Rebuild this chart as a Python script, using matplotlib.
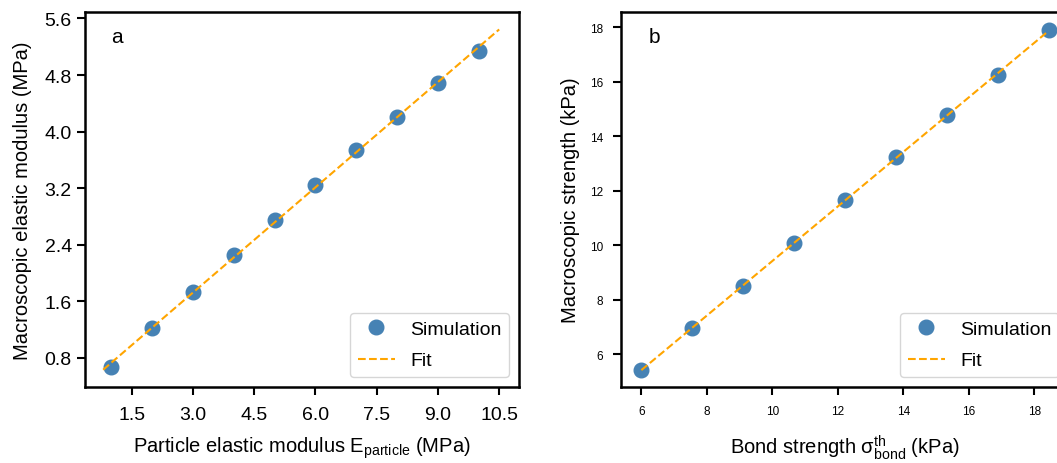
import numpy as np
import matplotlib
matplotlib.use("Agg")
import matplotlib.pyplot as plt

plt.rcParams['font.family'] = ['Liberation Sans', 'DejaVu Sans']
plt.rcParams['mathtext.fontset'] = 'custom'
plt.rcParams['mathtext.rm'] = 'Liberation Sans'

# panel a
e_particle = [1, 2, 3, 4, 5, 6, 7, 8, 9, 10]
e_macro = [0.67, 1.22, 1.74, 2.25, 2.75, 3.24, 3.74, 4.21, 4.69, 5.14]
fit_a_range = [0.8, 10.5]

# panel b
bond = [6.0, 7.55, 9.1, 10.67, 12.21, 13.78, 15.34, 16.89, 18.44]
strength = [5.42, 6.96, 8.50, 10.07, 11.64, 13.24, 14.78, 16.25, 17.90]
fit_b_range = [6.0, 18.44]

fig = plt.figure(figsize=(10.57, 4.64), dpi=100)
ax1 = fig.add_axes([0.0804, 0.1638, 0.4106, 0.808])
ax2 = fig.add_axes([0.5875, 0.1638, 0.4238, 0.808])

blue = '#4682b4'
orange = 'orange'
lab = 14.5

# a
k, b = np.polyfit(e_particle, e_macro, 1)
xf = np.linspace(fit_a_range[0], fit_a_range[1], 50)
ax1.plot(e_particle, e_macro, 'o', color=blue, markersize=10.5, label='Simulation')
ax1.plot(xf, k * xf + b, '--', color=orange, lw=1.5, label='Fit')
ax1.set_xticks([1.5, 3.0, 4.5, 6.0, 7.5, 9.0, 10.5])
ax1.set_yticks([0.8, 1.6, 2.4, 3.2, 4.0, 4.8, 5.6])
ax1.set_xlim(0.355, 10.985)
ax1.set_ylim(0.39, 5.69)
ax1.tick_params(labelsize=14, width=1.5, length=6)
ax1.tick_params(axis='x', pad=7.5)
ax1.tick_params(axis='y', pad=3.5)
ax1.set_xlabel(r'Particle elastic modulus E$_{\mathregular{particle}}$ (MPa)', fontsize=lab, labelpad=8.5)
ax1.set_ylabel('Macroscopic elastic modulus (MPa)', fontsize=lab, labelpad=9)
ax1.text(0.06, 0.92, 'a', transform=ax1.transAxes, fontsize=15)
ax1.legend(loc='lower right', fontsize=14, handlelength=1.9, labelspacing=0.7)

# b
k2, b2 = np.polyfit(bond, strength, 1)
xf2 = np.linspace(fit_b_range[0], fit_b_range[1], 50)
ax2.plot(bond, strength, 'o', color=blue, markersize=10.5, label='Simulation')
ax2.plot(xf2, k2 * xf2 + b2, '--', color=orange, lw=1.5, label='Fit')
ax2.set_xticks([6, 8, 10, 12, 14, 16, 18])
ax2.set_yticks([6, 8, 10, 12, 14, 16, 18])
ax2.set_xlim(5.378, 19.06)
ax2.set_ylim(4.79, 18.56)
ax2.tick_params(labelsize=8.5, width=1.5, length=6)
ax2.tick_params(axis='x', pad=7)
ax2.tick_params(axis='y', pad=7)
ax2.set_xlabel(r'Bond strength $\mathregular{\sigma^{th}_{bond}}$ (kPa)', fontsize=lab, labelpad=11)
ax2.set_ylabel('Macroscopic strength (kPa)', fontsize=lab, labelpad=7)
ax2.text(0.0625, 0.92, 'b', transform=ax2.transAxes, fontsize=15)
ax2.legend(loc='lower right', fontsize=14, handlelength=1.9, labelspacing=0.7)

for ax in (ax1, ax2):
    for s in ax.spines.values():
        s.set_linewidth(1.8)

fig.savefig('out.png', dpi=100)
